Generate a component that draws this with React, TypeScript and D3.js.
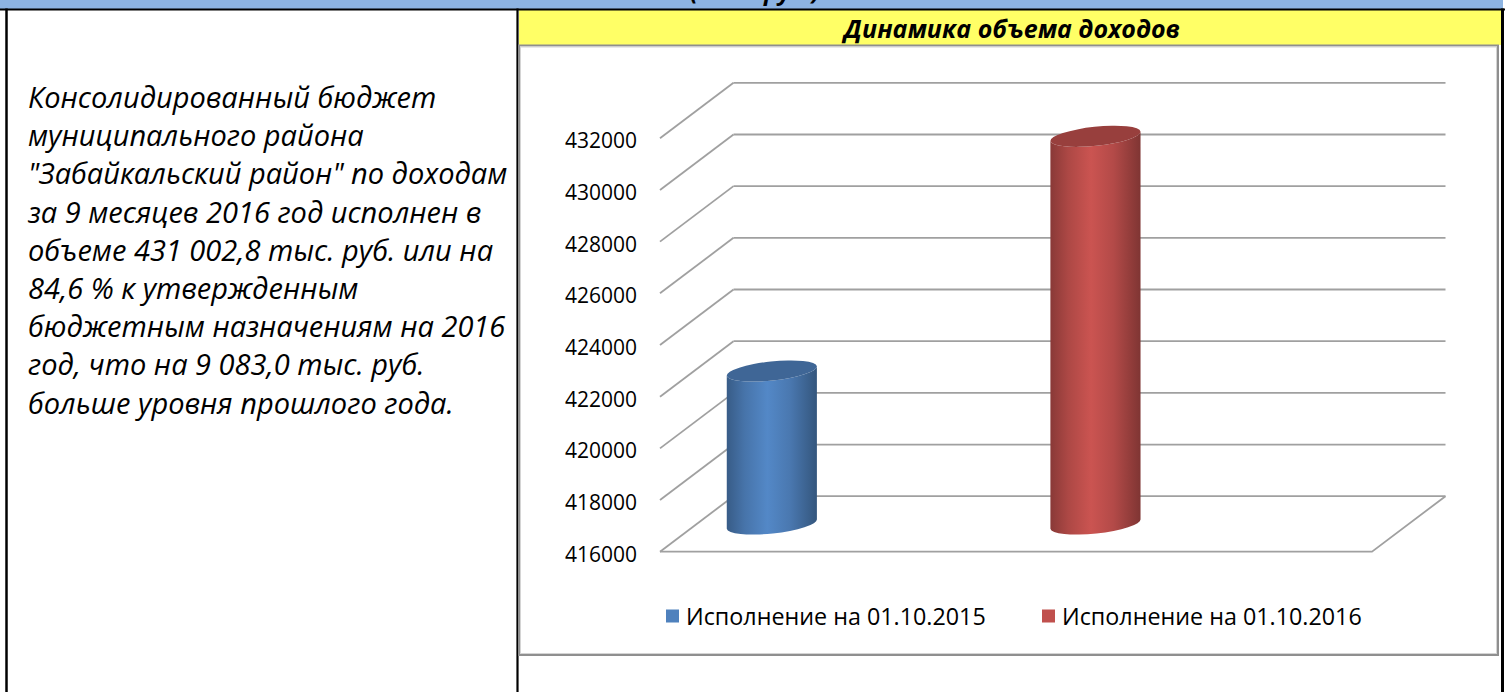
import React from 'react';
import * as d3 from 'd3';

// ---- data ----
const headerText = '(тыс. руб.)';
const chartTitle = 'Динамика объема доходов';
const seriesNames = ['Исполнение на 01.10.2015', 'Исполнение на 01.10.2016'];
const seriesValues = [421919.8, 431002.8];
const seriesColors = ['#4F81BD', '#C0504D'];
const yTicks = [416000, 418000, 420000, 422000, 424000, 426000, 428000, 430000, 432000];
const paragraphLines = [
  'Консолидированный бюджет',
  'муниципального района',
  '"Забайкальский район" по доходам',
  'за 9 месяцев 2016 год исполнен в',
  'объеме 431 002,8 тыс. руб. или на',
  '84,6 % к утвержденным',
  'бюджетным назначениям на 2016',
  'год, что на 9 083,0 тыс. руб.',
  'больше уровня прошлого года.',
];

// ---- layout ----
const W = 1509;
const H = 692;
const FRONT_X0 = 660;
const FRONT_X1 = 1372;
const DEPTH_DX = 73.5;
const DEPTH_DY = -55.5;
const FONT = '"Open Sans", "Noto Sans", sans-serif';

export default function App() {
  const y = d3.scaleLinear().domain([416000, 432000]).range([551.7, 138.3]);
  const x = d3
    .scaleBand<string>()
    .domain(seriesNames)
    .range([FRONT_X0 + DEPTH_DX / 2, FRONT_X1 + DEPTH_DX / 2])
    .paddingInner(0.72)
    .paddingOuter(0.46)
    .align(0.1);
  const base = y.domain()[0];
  const rot = -6;
  const rad = (rot * Math.PI) / 180;

  const cylinders = seriesNames.map((name, i) => {
    const bw = x.bandwidth();
    const a = bw / 2;
    const b = a * 0.21;
    const cx = (x(name) as number) + a;
    const topY = y(seriesValues[i]) + DEPTH_DY / 2;
    const botY = y(base) + DEPTH_DY / 2;
    const ex = a * Math.cos(rad);
    const ey = a * Math.sin(rad);
    const side = [
      `M${cx - ex},${topY - ey}`,
      `L${cx - ex},${botY - ey}`,
      `A${a},${b} ${rot} 0 0 ${cx + ex},${botY + ey}`,
      `L${cx + ex},${topY + ey}`,
      `A${a},${b} ${rot} 0 1 ${cx - ex},${topY - ey}`,
      'Z',
    ].join(' ');
    const c = d3.color(seriesColors[i])!;
    return { name, cx, topY, botY, a, b, side, c, i };
  });

  const lineColor = '#a0a0a0';

  return (
    <svg
      width={W}
      height={H}
      style={{ position: 'absolute', left: 0, top: 0, background: '#fff' }}
      fontFamily={FONT}
    >
      <defs>
        {cylinders.map((cy) => (
          <linearGradient key={cy.name} id={`side${cy.i}`} x1="0" x2="1" y1="0" y2="0">
            <stop offset="0" stopColor={cy.c.darker(0.95).formatHex()} />
            <stop offset="0.2" stopColor={cy.c.darker(0.3).formatHex()} />
            <stop offset="0.45" stopColor={cy.c.brighter(0.15).formatHex()} />
            <stop offset="0.7" stopColor={cy.c.darker(0.2).formatHex()} />
            <stop offset="1" stopColor={cy.c.darker(1.15).formatHex()} />
          </linearGradient>
        ))}
      </defs>

      {/* header band */}
      <rect x={0} y={0} width={1503} height={9} fill="#8DB4E2" />
      <text
        x={755}
        y={-0.5}
        textAnchor="middle"
        fontSize={24}
        fontWeight="bold"
        fontStyle="italic"
        fill="#000"
      >
        {headerText}
      </text>

      {/* title cell */}
      <rect x={519} y={10} width={982} height={35} fill="#FFFF66" />
      <text
        x={1012}
        y={38}
        textAnchor="middle"
        fontSize={25}
        fontWeight="bold"
        fontStyle="italic"
        fill="#000"
      >
        {chartTitle}
      </text>

      {/* table borders */}
      <line x1={0} x2={1505} y1={9.5} y2={9.5} stroke="#000" strokeWidth={2.2} />
      <line x1={6.5} x2={6.5} y1={8.5} y2={H} stroke="#000" strokeWidth={2.5} />
      <line x1={517.5} x2={517.5} y1={8.5} y2={H} stroke="#000" strokeWidth={2.2} />
      <line x1={1502.5} x2={1502.5} y1={8.5} y2={H} stroke="#000" strokeWidth={3} />

      {/* chart frame */}
      <rect x={519} y={45.5} width={979} height={609.5} fill="#fff" stroke="#8f8f8f" strokeWidth={2} />
      <rect x={520.5} y={47} width={976} height={606.5} fill="none" stroke="#d4d4d4" strokeWidth={1} />

      {/* left paragraph */}
      {paragraphLines.map((ln, i) => (
        <text key={i} x={28} y={108 + i * 38.2} fontSize={29} fontStyle="italic" fill="#000">
          {ln}
        </text>
      ))}

      {/* 3D gridlines */}
      {yTicks.map((t) => {
        const yf = y(t);
        return (
          <g key={t}>
            <line
              x1={FRONT_X0}
              y1={yf}
              x2={FRONT_X0 + DEPTH_DX}
              y2={yf + DEPTH_DY}
              stroke={lineColor}
              strokeWidth={1.8}
            />
            <line
              x1={FRONT_X0 + DEPTH_DX}
              y1={yf + DEPTH_DY}
              x2={FRONT_X1 + DEPTH_DX}
              y2={yf + DEPTH_DY}
              stroke={lineColor}
              strokeWidth={1.8}
            />
            <text
              x={637}
              y={yf + 2}
              textAnchor="end"
              dominantBaseline="central"
              fontSize={21}
              fill="#000"
            >
              {t}
            </text>
          </g>
        );
      })}
      {/* floor */}
      <polyline
        points={`${FRONT_X0},${y(base)} ${FRONT_X1},${y(base)} ${FRONT_X1 + DEPTH_DX},${y(base) + DEPTH_DY}`}
        fill="none"
        stroke={lineColor}
        strokeWidth={1.8}
      />

      {/* cylinders */}
      {cylinders.map((cy) => (
        <g key={cy.name}>
          <path d={cy.side} fill={`url(#side${cy.i})`} />
          <ellipse
            cx={cy.cx}
            cy={cy.topY}
            rx={cy.a}
            ry={cy.b}
            transform={`rotate(${rot} ${cy.cx} ${cy.topY})`}
            fill={cy.c.darker(0.65).formatHex()}
          />
        </g>
      ))}

      {/* legend */}
      {seriesNames.map((name, i) => {
        const lx = [666, 1042][i];
        return (
          <g key={name}>
            <rect x={lx} y={609.5} width={13} height={13} fill={seriesColors[i]} />
            <text x={lx + 20} y={625} fontSize={23.3} fill="#000">
              {name}
            </text>
          </g>
        );
      })}
    </svg>
  );
}
